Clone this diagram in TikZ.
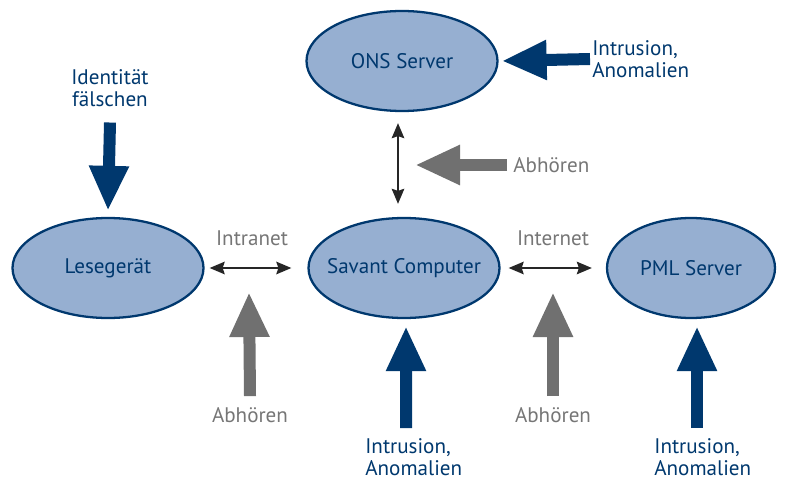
\documentclass[tikz,border=0pt]{standalone}
\usepackage{fontspec}
\setmainfont{PT Sans}
\usepackage{xcolor}
\usepackage{tikz}
\usetikzlibrary{shapes.geometric, arrows.meta, positioning}
\definecolor{navy}{RGB}{0,56,110}
\definecolor{fillblue}{RGB}{150,175,209}
\definecolor{tapgray}{RGB}{112,112,112}
\definecolor{labelgray}{RGB}{118,118,118}
\tikzset{
    station/.style={ellipse, minimum width=3.82cm, minimum height=2cm, text centered, draw=navy, line width=1.3pt, fill=fillblue, text=navy},
    threat/.style={text=navy, align=left},
    graylabel/.style={text=labelgray},
    link/.style={{Stealth[length=0.3cm, width=0.25cm, inset=0.04cm]}-{Stealth[length=0.3cm, width=0.25cm, inset=0.04cm]}, line width=1.1pt, draw=black!85},
    attack/.style={-{Triangle[length=0.9cm, width=0.74cm]}, line width=0.24cm, draw=navy},
    tap/.style={-{Triangle[length=0.9cm, width=0.74cm]}, line width=0.24cm, draw=tapgray}
}
\begin{document}
\begin{tikzpicture}[font=\fontsize{12}{12.2}\selectfont]
    \useasboundingbox (0,0) rectangle (15.74,9.58);

    % Stations
    \node[station] (ons) at (8.04,8.36) {\makebox[0pt]{ONS Server}};
    \node[station] (lese) at (2.16,4.22) {\makebox[0pt]{Lesegerät}};
    \node[station] (savant) at (8.08,4.22) {\makebox[0pt]{Savant Computer}};
    \node[station, minimum width=3.36cm] (pml) at (13.82,4.22) {\makebox[0pt]{PML Server}};

    % Links
    \draw[link, shorten <=0.1cm, shorten >=0.32cm] (lese) -- (savant);
    \draw[link, shorten <=0.16cm, shorten >=0.28cm] (savant) -- (pml);
    \draw[link] ([xshift=-0.08cm, yshift=-0.22cm]ons.south) -- ([xshift=-0.12cm, yshift=0.26cm]savant.north);
    \node[graylabel] (intranet) at (5.04,4.82) {Intranet};
    \node[graylabel] (internet) at (11.06,4.82) {Internet};

    % Threat labels
    \node[threat, align=center] (ident) at (2.2,7.82) {Identität\\fälschen};
    \node[threat, anchor=west, inner sep=0pt] (introns) at (11.84,8.4) {Intrusion,\\Anomalien};
    \node[threat, anchor=west, inner sep=0pt] (intrsav) at (7.3,0.44) {Intrusion,\\Anomalien};
    \node[threat, anchor=west, inner sep=0pt] (intrpml) at (13.08,0.44) {Intrusion,\\Anomalien};
    \node[graylabel, anchor=west, inner sep=0pt] (abhons) at (10.26,6.28) {Abhören};
    \node[graylabel] (abhintra) at (5.0,1.28) {Abhören};
    \node[graylabel] (abhinter) at (11.06,1.28) {Abhören};

    % Tap targets on the links
    \coordinate (tapv) at (8.3,6.28);
    \coordinate (tapintra) at (4.98,3.74);
    \coordinate (tapinter) at (11.06,3.74);

    % Attacks
    \draw[attack] ([yshift=-0.2cm]ident.south) -- ([yshift=0.12cm]lese.north);
    \draw[attack] ([xshift=-0.04cm]introns.west) -- ([xshift=0.06cm]ons.east);
    \draw[attack] (8.12,1.02) -- ([xshift=0.04cm, yshift=-0.14cm]savant.south);
    \draw[attack] (13.94,1.02) -- ([xshift=0.12cm, yshift=-0.14cm]pml.south);

    % Eavesdropping
    \draw[tap] ([xshift=-0.12cm]abhons.west) -- (tapv);
    \draw[tap] ([yshift=0.1cm]abhintra.north) -- (tapintra);
    \draw[tap] ([yshift=0.1cm]abhinter.north) -- (tapinter);
\end{tikzpicture}
\end{document}
